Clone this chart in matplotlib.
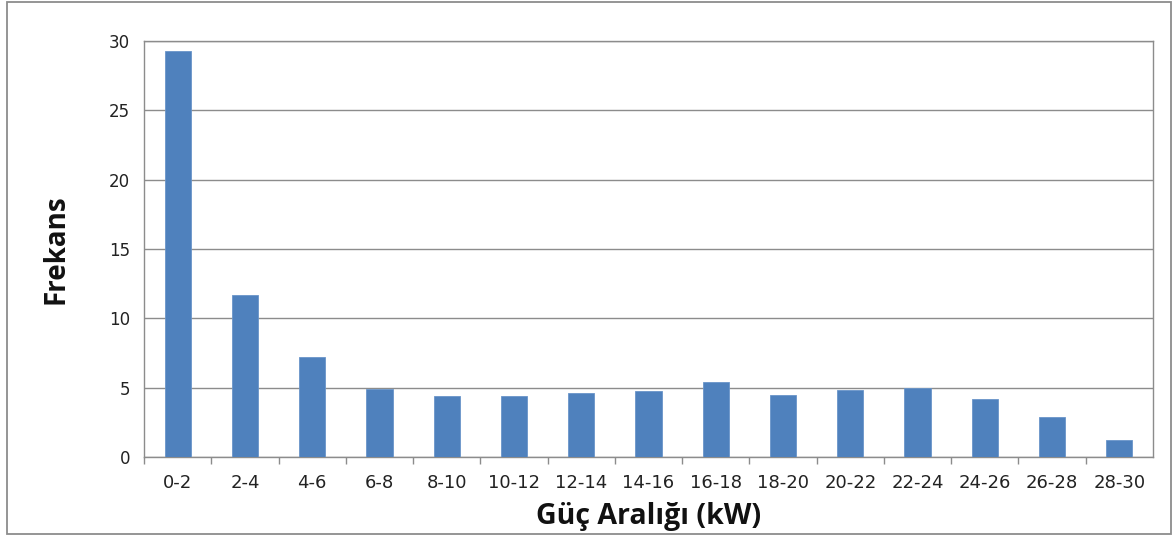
import matplotlib
matplotlib.use("Agg")
import matplotlib.pyplot as plt
import numpy as np
from matplotlib import font_manager
from matplotlib.patches import Rectangle

# power ranges (kW) and their frequencies
ranges = ['0-2', '2-4', '4-6', '6-8', '8-10', '10-12', '12-14', '14-16',
          '16-18', '18-20', '20-22', '22-24', '24-26', '26-28', '28-30']
freq = [29.3, 11.7, 7.2, 4.9, 4.4, 4.4, 4.6, 4.75,
        5.4, 4.5, 4.85, 5.0, 4.2, 2.85, 1.25]
yticks = [0, 5, 10, 15, 20, 25, 30]

plt.rcParams['font.family'] = ['DejaVu Sans']
names = {f.name for f in font_manager.fontManager.ttflist}
bold_font = 'Open Sans' if 'Open Sans' in names else 'DejaVu Sans'

grey = '#8c8c8c'
bar_col = '#4f81bd'
txt_col = '#222222'

fig = plt.figure(figsize=(11.73, 5.36), dpi=100)
ax = fig.add_axes([144 / 1173, 1 - 457 / 536, (1153 - 144) / 1173, (457 - 41) / 536])

x = np.arange(len(ranges))
ax.bar(x, freq, width=0.39, color=bar_col, edgecolor='#6a95c9', linewidth=0.6, zorder=3)

ax.set_xlim(-0.5, len(ranges) - 0.5)
ax.set_ylim(0, 30)
ax.set_yticks(yticks)
ax.yaxis.grid(True, color=grey, linewidth=1.0, zorder=0)
ax.tick_params(axis='y', length=0, pad=10, labelsize=12, labelcolor=txt_col)

ax.set_xticks(x)
ax.set_xticklabels(ranges)
ax.set_xticks(np.arange(-0.5, len(ranges) - 1, 1.0), minor=True)
ax.tick_params(axis='x', which='major', length=0, pad=12, labelsize=13, labelcolor=txt_col)
ax.tick_params(axis='x', which='minor', length=5, width=1.0, color=grey, direction='out')

for s in ax.spines.values():
    s.set_color(grey)
    s.set_linewidth(1.0)

ax.set_xlabel('Güç Aralığı (kW)', fontsize=20.5, fontweight='bold',
              family=[bold_font, 'DejaVu Sans'], color='#111111')
ax.xaxis.set_label_coords(0.5, -(502 - 457) / 416)
ax.set_ylabel('Frekans', fontsize=20, fontweight='bold',
              family=[bold_font, 'DejaVu Sans'], color='#111111')
ax.yaxis.set_label_coords(-(144 - 70) / 1009, 0.5)

# outer chart border
fig.patches.append(Rectangle((6.5 / 1173, 1 - 534 / 536), (1170.5 - 6.5) / 1173, (533 - 1) / 536,
                             transform=fig.transFigure, fill=False,
                             edgecolor=grey, linewidth=1.3))

fig.savefig('out.png', dpi=100)
